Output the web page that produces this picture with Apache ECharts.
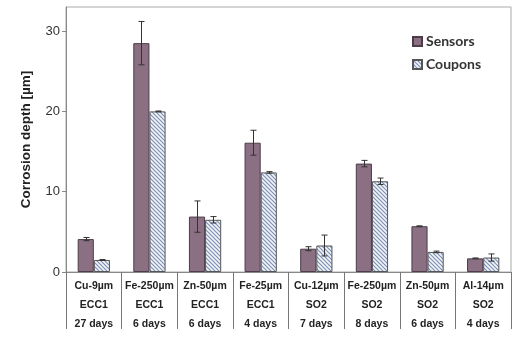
<!DOCTYPE html>
<html>
<head>
<meta charset="utf-8">
<script src="https://cdn.jsdelivr.net/npm/echarts@6/dist/echarts.min.js"></script>
<style>
html,body{margin:0;padding:0;background:#fff;}
#chart{width:522px;height:345px;}
</style>
</head>
<body>
<div id="chart"></div>
<script>
var materials = ['Cu-9µm','Fe-250µm','Zn-50µm','Fe-25µm','Cu-12µm','Fe-250µm','Zn-50µm','Al-14µm'];
var environments = ['ECC1','ECC1','ECC1','ECC1','SO2','SO2','SO2','SO2'];
var durations = ['27 days','6 days','6 days','4 days','7 days','8 days','6 days','4 days'];
var sensors = [4.1, 28.5, 6.9, 16.1, 2.9, 13.5, 5.7, 1.7];
var sensorsErr = [0.2, 2.7, 1.95, 1.55, 0.25, 0.4, 0.05, 0.05];
var coupons = [1.5, 20.0, 6.5, 12.4, 3.3, 11.3, 2.5, 1.8];
var couponsErr = [0.05, 0.05, 0.4, 0.1, 1.3, 0.4, 0.1, 0.45];
var yTicks = [0, 10, 20, 30];

var categories = materials.map(function(m, i){ return m + '\n' + environments[i] + '\n' + durations[i]; });

// hatch pattern
var pc = document.createElement('canvas');
pc.width = 4; pc.height = 4;
var pctx = pc.getContext('2d');
pctx.fillStyle = '#f2f5fa';
pctx.fillRect(0,0,4,4);
pctx.strokeStyle = '#7d91b4';
pctx.lineWidth = 1.2;
pctx.beginPath();
pctx.moveTo(-1,-1); pctx.lineTo(5,5);
pctx.moveTo(-1,3); pctx.lineTo(1,5);
pctx.moveTo(3,-1); pctx.lineTo(5,1);
pctx.stroke();

var BAR_FRAC = 0.29;

var errData = [];
sensors.forEach(function(v,i){ errData.push([i, v - sensorsErr[i], v + sensorsErr[i], 0]); });
coupons.forEach(function(v,i){ errData.push([i, v - couponsErr[i], v + couponsErr[i], 1]); });

var chart = echarts.init(document.getElementById('chart'), null, {renderer:'canvas'});
chart.setOption({
  animation: false,
  grid: {left: 66, right: 11, top: 7, bottom: 73, show: true, borderColor: '#aaa', borderWidth: 1},
  legend: {
    orient: 'vertical', left: 412, top: 33, padding: 0, itemWidth: 9, itemHeight: 9, itemGap: 6,
    icon: 'rect',
    data: ['Sensors','Coupons'],
    textStyle: {fontFamily: 'Lato', fontWeight: 'bold', fontSize: 14, lineHeight: 17, color: '#333', padding: [0,0,0,-1]}
  },
  xAxis: {
    type: 'category', data: categories,
    axisLine: {lineStyle: {color: '#888', width: 1}},
    axisTick: {show: true, length: 57, interval: 0, lineStyle: {color: '#777'}},
    axisLabel: {interval: 0, margin: 5, fontFamily: 'Liberation Sans', fontWeight: 'bold', fontSize: 10.5, lineHeight: 19, color: '#222'}
  },
  yAxis: {
    type: 'value', min: 0, max: 33, interval: 10,
    name: 'Corrosion depth [µm]', nameLocation: 'middle', nameGap: 33,
    nameTextStyle: {fontFamily: 'Liberation Sans', fontWeight: 'bold', fontSize: 13.5, color: '#222'},
    axisLine: {show: true, lineStyle: {color: '#888'}},
    axisTick: {show: true, length: 4, customValues: yTicks, lineStyle: {color: '#888'}},
    axisLabel: {margin: 6, customValues: yTicks, fontFamily: 'Liberation Sans', fontSize: 13, color: '#333'},
    splitLine: {show: false}
  },
  series: [
    {name: 'Sensors', type: 'bar', data: sensors, barWidth: (BAR_FRAC*100)+'%', barGap: '0%',
     itemStyle: {color: '#8b6f83', borderColor: '#4d3d48', borderWidth: 1}},
    {name: 'Coupons', type: 'bar', data: coupons, barWidth: (BAR_FRAC*100)+'%', barGap: '0%',
     itemStyle: {color: {image: pc, repeat: 'repeat'}, borderColor: '#555', borderWidth: 1}},
    {type: 'custom', data: errData, z: 10,
     renderItem: function(params, api){
       var x = api.value(0);
       var lo = api.coord([x, api.value(1)]);
       var hi = api.coord([x, api.value(2)]);
       var band = api.size([1,0])[0];
       var off = (api.value(3) === 0 ? -1 : 1) * band * BAR_FRAC / 2;
       var cx = Math.round(lo[0] + off) + 0.5;
       var cap = 3;
       var st = {stroke: '#333', lineWidth: 1};
       return {type: 'group', children: [
         {type: 'line', shape: {x1: cx, y1: hi[1], x2: cx, y2: lo[1]}, style: st},
         {type: 'line', shape: {x1: cx-cap, y1: hi[1], x2: cx+cap, y2: hi[1]}, style: st},
         {type: 'line', shape: {x1: cx-cap, y1: lo[1], x2: cx+cap, y2: lo[1]}, style: st}
       ]};
     }}
  ]
});
</script>
</body>
</html>
